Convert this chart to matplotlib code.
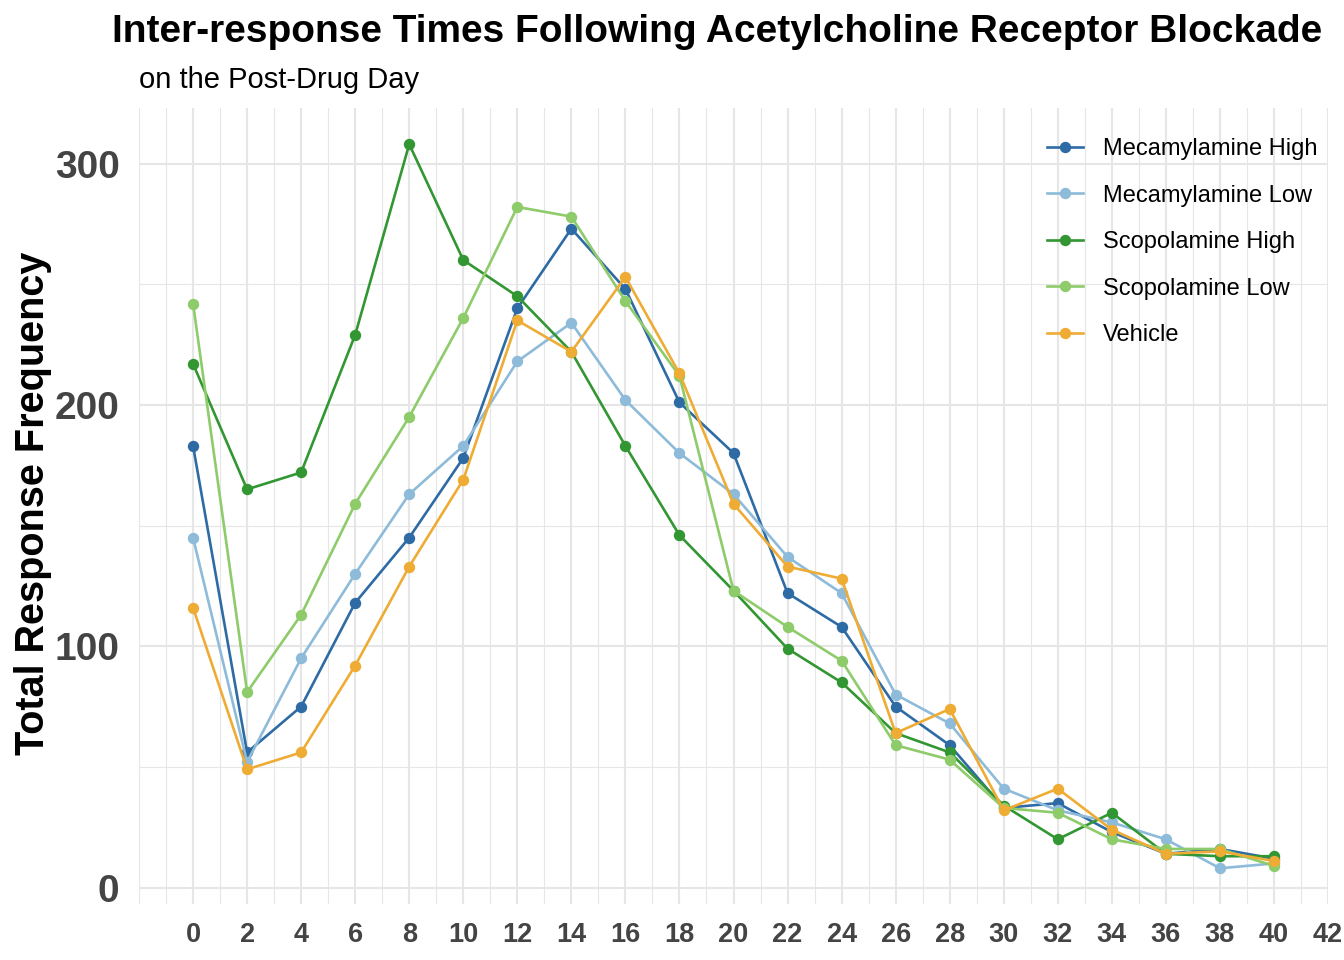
import matplotlib
matplotlib.use("Agg")
import matplotlib.pyplot as plt

plt.rcParams['font.family'] = ['Liberation Sans', 'DejaVu Sans']

x_values = list(range(0, 41, 2))
series_names = ["Mecamylamine High", "Mecamylamine Low", "Scopolamine High",
                "Scopolamine Low", "Vehicle"]
mec_high = [183, 56, 75, 118, 145, 178, 240, 273, 248, 201, 180, 122, 108, 75, 59, 33, 35, 23, 14, 16, 12]
mec_low = [145, 52, 95, 130, 163, 183, 218, 234, 202, 180, 163, 137, 122, 80, 68, 41, 32, 27, 20, 8, 10]
scop_high = [217, 165, 172, 229, 308, 260, 245, 222, 183, 146, 123, 99, 85, 64, 56, 34, 20, 31, 14, 13, 13]
scop_low = [242, 81, 113, 159, 195, 236, 282, 278, 243, 212, 123, 108, 94, 59, 53, 33, 31, 20, 16, 16, 9]
vehicle = [116, 49, 56, 92, 133, 169, 235, 222, 253, 213, 159, 133, 128, 64, 74, 32, 41, 24, 14, 15, 11]
colors = ["#2e6ba5", "#8dbbd9", "#329632", "#8ecb6a", "#eeac35"]
x_tick_labels = [str(v) for v in range(0, 43, 2)]
y_ticks = [0, 100, 200, 300]

W, H = 1344, 960
fig = plt.figure(figsize=(W / 100, H / 100), dpi=100)
L, R, T, B = 139, 1328, 108, 904
ax = fig.add_axes([L / W, 1 - B / H, (R - L) / W, (B - T) / H])
ax.set_xlim(-2, 42)
ax.set_ylim(-6.8, 323)

grid_c = "#e6e6e6"
for xv in range(-2, 43):
    ax.axvline(xv, color=grid_c, lw=1.5 if xv % 2 == 0 and xv >= 0 else 0.8, zorder=0)
for yv in range(0, 301, 50):
    ax.axhline(yv, color=grid_c, lw=1.5 if yv % 100 == 0 else 0.8, zorder=0)

all_series = [mec_high, mec_low, scop_high, scop_low, vehicle]
for name, vals, c in zip(series_names, all_series, colors):
    ax.plot(x_values, vals, color=c, lw=1.9, marker='o', markersize=8.2,
            markeredgewidth=0, label=name, zorder=3)

for s in ax.spines.values():
    s.set_visible(False)
ax.set_xticks(range(0, 43, 2))
ax.set_xticklabels(x_tick_labels)
ax.set_yticks(y_ticks)
ax.tick_params(axis='x', length=0, pad=13, labelsize=19.5, labelcolor="#444444")
ax.tick_params(axis='y', length=0, pad=14, labelsize=28, labelcolor="#444444")
for lab in ax.get_xticklabels() + ax.get_yticklabels():
    lab.set_fontweight('bold')

fig.text(33 / W, 1 - 503 / H, "Total Response Frequency", rotation=90,
         ha='center', va='center', fontsize=28.5, fontweight='bold', color='black')
fig.text(112 / W, 1 - 32 / H, "Inter-response Times Following Acetylcholine Receptor Blockade",
         ha='left', va='center', fontsize=28, fontweight='bold', color='black')
fig.text(139 / W, 1 - 80 / H, "on the Post-Drug Day",
         ha='left', va='center', fontsize=21, color='black')

leg = ax.legend(loc='upper left', bbox_to_anchor=(1047 / W, 1 - 138 / H),
                bbox_transform=fig.transFigure, frameon=False, fontsize=17,
                handlelength=1.53, handletextpad=0.85, labelspacing=1.04,
                borderaxespad=0, borderpad=0)

fig.savefig("out.png", dpi=100, facecolor='white')
